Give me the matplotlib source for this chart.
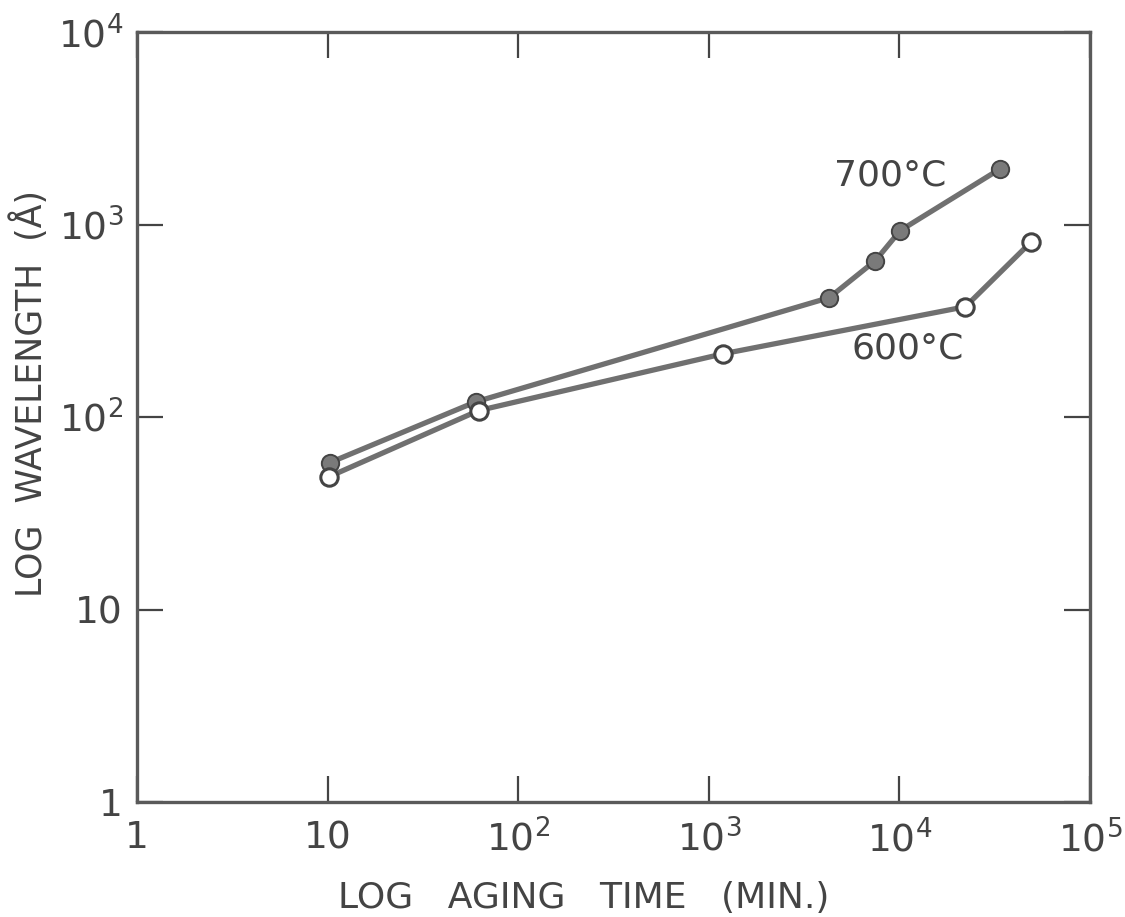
import matplotlib
matplotlib.use("Agg")
import matplotlib.pyplot as plt

# aging time (min) and wavelength (A)
t_700 = [10.3, 60, 4290, 7480, 10100, 33900]
w_700 = [58, 120, 417, 649, 930, 1950]

t_600 = [10.2, 62, 1190, 22200, 49300]
w_600 = [49, 108, 213, 374, 815]

x_ticks = [1, 10, 1e2, 1e3, 1e4, 1e5]
x_labels = ["1", "10", r"$\mathregular{10^2}$", r"$\mathregular{10^3}$",
            r"$\mathregular{10^4}$", r"$\mathregular{10^5}$"]
y_ticks = [1, 10, 1e2, 1e3, 1e4]
y_labels = ["1", "10", r"$\mathregular{10^2}$", r"$\mathregular{10^3}$",
            r"$\mathregular{10^4}$"]

INK = "#444444"
LINE = "#707070"

fig = plt.figure(figsize=(11.25, 9.17), dpi=100)
ax = fig.add_axes([137 / 1125, 1 - 802 / 917, (1090 - 137) / 1125, (802 - 32) / 917])

ax.plot(t_700, w_700, color=LINE, lw=3.8, marker="o", ms=12.5,
        mfc="#7a7a7a", mec=INK, mew=1.4, solid_capstyle="round")
ax.plot(t_600, w_600, color=LINE, lw=3.8, marker="o", ms=12.5,
        mfc="white", mec=INK, mew=2.2, solid_capstyle="round")

ax.set_xscale("log")
ax.set_yscale("log")
ax.set_xlim(1, 1e5)
ax.set_ylim(1, 1e4)
ax.set_xticks(x_ticks)
ax.set_xticklabels(x_labels)
ax.set_yticks(y_ticks)
ax.set_yticklabels(y_labels)
ax.minorticks_off()
ax.tick_params(which="major", direction="in", length=19, width=1.6, color=INK,
               top=True, right=True, labelsize=27, labelcolor=INK)
ax.tick_params(axis="x", pad=13)
ax.tick_params(axis="y", pad=10)

for s in ax.spines.values():
    s.set_linewidth(2.4)
    s.set_color("#5a5a5a")

ax.text(8.9e3, 1.8e3, "700°C", fontsize=26, color=INK, ha="center", va="center")
ax.text(1.1e4, 2.28e2, "600°C", fontsize=26, color=INK, ha="center", va="center")

ax.set_xlabel("LOG   AGING   TIME   (MIN.)", fontsize=26, color=INK)
ax.xaxis.set_label_coords(0.469, -0.102)
ax.set_ylabel("LOG  WAVELENGTH  (Å)", fontsize=25, color=INK, loc="top")
ax.yaxis.set_label_coords(-0.092, 0.795)

fig.savefig("out.png", dpi=100)
